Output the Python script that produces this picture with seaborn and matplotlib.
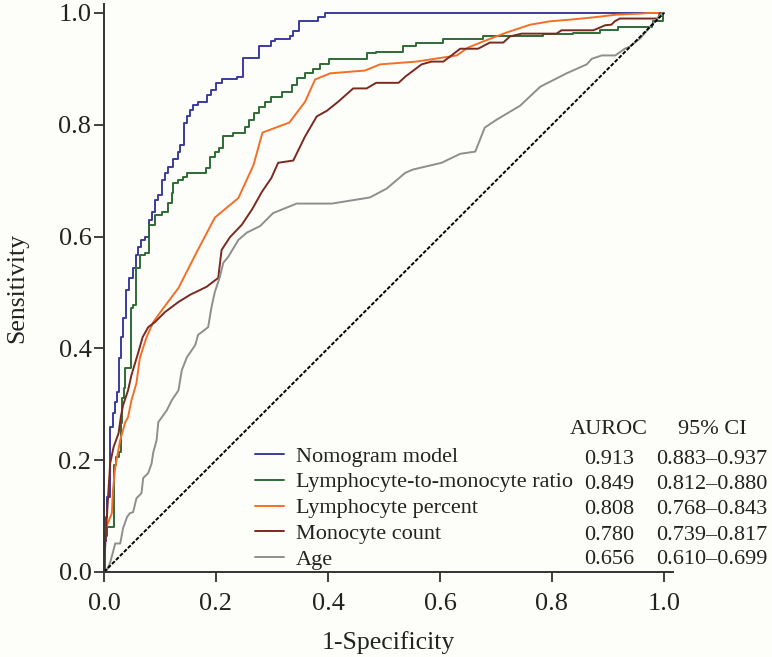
import numpy as np
import pandas as pd
import matplotlib
matplotlib.use("Agg")
import matplotlib.pyplot as plt
import seaborn as sns

# ---------------- data ----------------
labels = ["Nomogram model", "Lymphocyte-to-monocyte ratio", "Lymphocyte percent",
          "Monocyte count", "Age"]
auroc = ["0.913", "0.849", "0.808", "0.780", "0.656"]
ci95 = ["0.883\u20130.937", "0.812\u20130.880", "0.768\u20130.843",
        "0.739\u20130.817", "0.610\u20130.699"]
ticks = [0.0, 0.2, 0.4, 0.6, 0.8, 1.0]

nomo_fpr = [0, 0, 0.003, 0.006, 0.011, 0.016, 0.020, 0.023, 0.026, 0.030,
            0.034, 0.039, 0.045, 0.052, 0.057, 0.061, 0.066, 0.073, 0.081, 0.085,
            0.091, 0.097, 0.103, 0.109, 0.115, 0.124, 0.133, 0.136, 0.142, 0.149,
            0.154, 0.159, 0.168, 0.184, 0.191, 0.200, 0.210, 0.237, 0.249, 0.276,
            0.299, 0.305, 0.333, 0.338, 0.348, 0.382, 0.395, 1.0]
nomo_tpr = [0, 0.056, 0.098, 0.134, 0.259, 0.284, 0.304, 0.322, 0.383, 0.420,
            0.454, 0.504, 0.526, 0.544, 0.567, 0.582, 0.594, 0.600, 0.630, 0.644,
            0.666, 0.675, 0.702, 0.714, 0.725, 0.738, 0.752, 0.764, 0.804, 0.815,
            0.827, 0.836, 0.841, 0.854, 0.863, 0.875, 0.881, 0.886, 0.920, 0.940,
            0.949, 0.953, 0.958, 0.967, 0.985, 0.992, 1.0, 1.0]

lmr_fpr = [0, 0.002, 0.005, 0.017, 0.021, 0.026, 0.030, 0.033, 0.036, 0.038,
           0.048, 0.052, 0.057, 0.064, 0.073, 0.081, 0.091, 0.103, 0.115, 0.121,
           0.124, 0.133, 0.141, 0.149, 0.182, 0.189, 0.198, 0.206, 0.212, 0.231,
           0.252, 0.259, 0.267, 0.276, 0.288, 0.299, 0.317, 0.335, 0.344, 0.359,
           0.374, 0.386, 0.402, 0.469, 0.486, 0.534, 0.558, 0.606, 0.677, 0.784,
           0.838, 0.886, 0.918, 0.979, 0.980, 0.998, 1.0]
lmr_tpr = [0, 0.065, 0.080, 0.191, 0.205, 0.214, 0.266, 0.312, 0.330, 0.365,
           0.472, 0.478, 0.544, 0.567, 0.571, 0.621, 0.639, 0.644, 0.660, 0.678,
           0.696, 0.701, 0.706, 0.714, 0.723, 0.743, 0.752, 0.759, 0.780, 0.785,
           0.796, 0.809, 0.821, 0.832, 0.841, 0.850, 0.859, 0.872, 0.884, 0.892,
           0.899, 0.908, 0.918, 0.929, 0.931, 0.940, 0.947, 0.954, 0.958, 0.962,
           0.965, 0.969, 0.974, 0.979, 0.985, 1.0, 1.0]

lym_fpr = [0, 0.001, 0.004, 0.014, 0.016, 0.020, 0.029, 0.038, 0.043, 0.049,
           0.058, 0.064, 0.076, 0.088, 0.106, 0.133, 0.166, 0.198, 0.240, 0.267,
           0.283, 0.331, 0.359, 0.377, 0.404, 0.466, 0.493, 0.558, 0.630, 0.650,
           0.677, 0.719, 0.761, 0.796, 0.832, 0.873, 0.916, 0.961, 0.970, 1.0]
lym_tpr = [0, 0.044, 0.080, 0.105, 0.146, 0.187, 0.236, 0.268, 0.277, 0.307,
           0.338, 0.383, 0.420, 0.447, 0.472, 0.508, 0.573, 0.634, 0.669, 0.728,
           0.786, 0.804, 0.841, 0.881, 0.892, 0.897, 0.908, 0.913, 0.924, 0.938,
           0.949, 0.965, 0.979, 0.985, 0.988, 0.992, 0.997, 0.999, 1.0, 1.0]

mono_fpr = [0, 0.002, 0.004, 0.011, 0.017, 0.026, 0.030, 0.034, 0.043, 0.049,
            0.061, 0.069, 0.079, 0.091, 0.109, 0.133, 0.154, 0.183, 0.204, 0.210,
            0.225, 0.246, 0.264, 0.282, 0.299, 0.311, 0.338, 0.359, 0.380, 0.398,
            0.418, 0.445, 0.469, 0.486, 0.526, 0.538, 0.567, 0.585, 0.606, 0.618,
            0.636, 0.668, 0.689, 0.713, 0.725, 0.746, 0.808, 0.817, 0.874, 0.895,
            0.906, 0.912, 0.921, 0.989, 0.993, 1.0]
mono_tpr = [0, 0.044, 0.080, 0.194, 0.223, 0.248, 0.277, 0.298, 0.325, 0.352,
            0.392, 0.420, 0.438, 0.447, 0.465, 0.483, 0.496, 0.510, 0.526, 0.576,
            0.599, 0.621, 0.648, 0.680, 0.705, 0.732, 0.736, 0.779, 0.815, 0.825,
            0.841, 0.865, 0.865, 0.875, 0.875, 0.886, 0.908, 0.913, 0.913, 0.922,
            0.936, 0.936, 0.947, 0.947, 0.958, 0.963, 0.963, 0.969, 0.969, 0.978,
            0.979, 0.985, 0.990, 0.990, 1.0, 1.0]

age_fpr = [0, 0.005, 0.011, 0.017, 0.020, 0.029, 0.034, 0.041, 0.046, 0.052,
           0.058, 0.067, 0.070, 0.079, 0.085, 0.088, 0.094, 0.097, 0.112, 0.121,
           0.133, 0.139, 0.148, 0.163, 0.168, 0.186, 0.192, 0.198, 0.207, 0.213,
           0.222, 0.240, 0.255, 0.279, 0.302, 0.344, 0.407, 0.475, 0.505, 0.538,
           0.552, 0.603, 0.636, 0.663, 0.680, 0.701, 0.743, 0.779, 0.826, 0.862,
           0.871, 0.889, 0.913, 0.930, 0.939, 0.957, 0.963, 0.971, 0.978, 0.987,
           0.996, 1.0]
age_tpr = [0, 0.003, 0.017, 0.039, 0.051, 0.051, 0.078, 0.098, 0.105, 0.107,
           0.132, 0.141, 0.168, 0.177, 0.194, 0.214, 0.236, 0.268, 0.289, 0.307,
           0.325, 0.361, 0.384, 0.406, 0.424, 0.438, 0.474, 0.501, 0.528, 0.553,
           0.564, 0.594, 0.607, 0.619, 0.642, 0.659, 0.659, 0.670, 0.686, 0.714,
           0.720, 0.732, 0.748, 0.752, 0.795, 0.809, 0.834, 0.868, 0.892, 0.908,
           0.918, 0.924, 0.924, 0.936, 0.940, 0.954, 0.961, 0.970, 0.979, 0.988,
           1.0, 1.0]

ref_fpr = [0.0, 1.0]
ref_tpr = [0.0, 1.0]

colors = ["#3b3b9c", "#2f6a36", "#f36f27", "#7a2a20", "#8e8e8e"]
series = [(nomo_fpr, nomo_tpr, "steps-post"), (lmr_fpr, lmr_tpr, "steps-post"),
          (lym_fpr, lym_tpr, "default"), (mono_fpr, mono_tpr, "default"),
          (age_fpr, age_tpr, "default")]

# ---------------- plot ----------------
sns.set_theme(style="ticks")
plt.rcParams["font.family"] = ["Liberation Serif", "DejaVu Serif"]
plt.rcParams["axes.edgecolor"] = "#333333"

bg = "#fdfdfa"
fig = plt.figure(figsize=(7.72, 6.57), dpi=100, facecolor=bg)
ax = fig.add_axes([0.1347, 0.1294, 0.737, 0.8645], facecolor=bg)

for (fx, ty, ds), lab, col in zip(series, labels, colors):
    df = pd.DataFrame({"fpr": fx, "tpr": ty})
    sns.lineplot(data=df, x="fpr", y="tpr", ax=ax, estimator=None, sort=False,
                 color=col, lw=1.4, label=lab, drawstyle=ds)

ref = pd.DataFrame({"fpr": ref_fpr, "tpr": ref_tpr})
sns.lineplot(data=ref, x="fpr", y="tpr", ax=ax, estimator=None, sort=False,
             color="black", lw=1.4, linestyle=(0, (2.0, 0.9)))

ax.set_xlim(0, 1.016)
ax.set_ylim(0, 1.016)
ax.set_xticks(ticks)
ax.set_yticks(ticks)
ax.set_xticklabels([f"{t:.1f}" for t in ticks])
ax.set_yticklabels([f"{t:.1f}" for t in ticks])
ax.tick_params(direction="out", length=7, width=1.3, color="#333333",
               labelsize=19, labelcolor="#222222")
ax.tick_params(axis="y", pad=2)
ax.tick_params(axis="x", pad=8)
for s in ("left", "bottom"):
    ax.spines[s].set_linewidth(1.4)
sns.despine(ax=ax)

ax.set_xlabel("1-Specificity", fontsize=18.5, color="#222222", labelpad=12)
ax.set_ylabel("Sensitivity", fontsize=18.5, color="#222222", labelpad=22)

handles, labs = ax.get_legend_handles_labels()
leg = ax.legend(handles[:5], labs[:5], loc="upper left",
                bbox_to_anchor=(255 / 772, 1 - 446 / 657),
                bbox_transform=fig.transFigure, frameon=False, fontsize=16,
                borderpad=0, borderaxespad=0, handlelength=1.3,
                handletextpad=0.55, labelspacing=0.24)
for t in leg.get_texts():
    t.set_color("#222222")

# AUROC / CI table
row_y = [459, 484.5, 510, 535.5, 560]
fig.text(609 / 772, 1 - 429 / 657, "AUROC", ha="center", va="center",
         fontsize=16, color="#222222")
fig.text(712 / 772, 1 - 429 / 657, "95% CI", ha="center", va="center",
         fontsize=16, color="#222222")
for a, c, yy in zip(auroc, ci95, row_y):
    fig.text(609 / 772, 1 - yy / 657, a, ha="center", va="center",
             fontsize=16, color="#222222")
    fig.text(712 / 772, 1 - yy / 657, c, ha="center", va="center",
             fontsize=16, color="#222222")

fig.savefig("out.png", dpi=100, facecolor=bg)
